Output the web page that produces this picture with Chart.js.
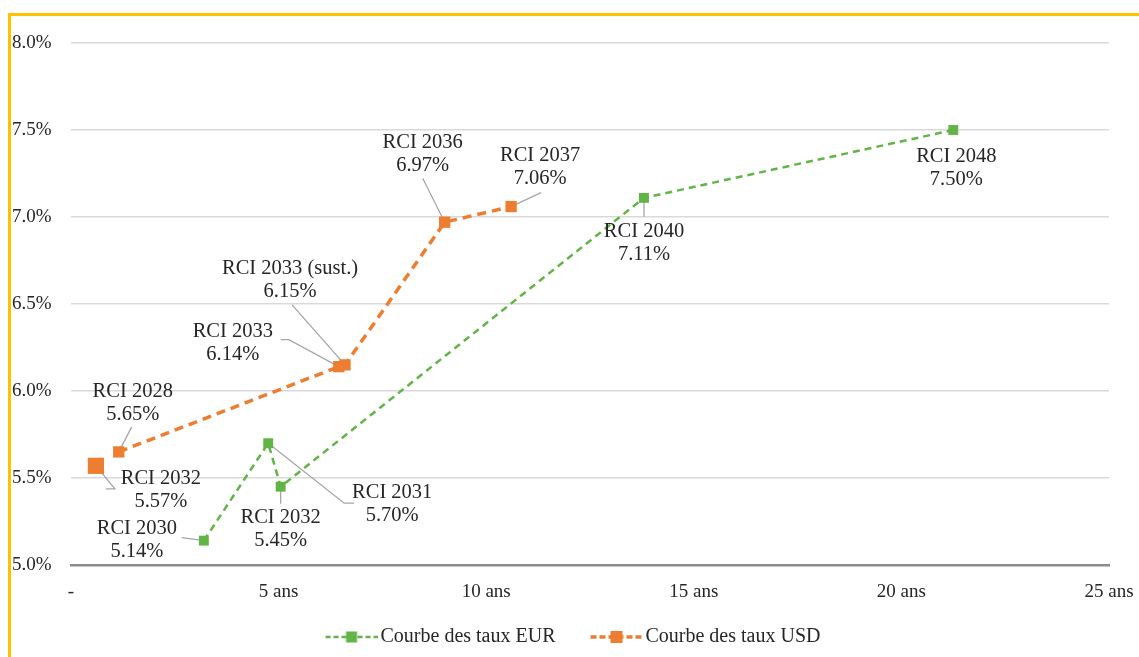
<!DOCTYPE html>
<html>
<head>
<meta charset="utf-8">
<script src="https://cdn.jsdelivr.net/npm/chart.js@4.4.1/dist/chart.umd.min.js"></script>
<style>
    html, body { margin: 0; padding: 0; background: #fff; }
    #wrap { position: absolute; left: 0; top: 0; width: 1139px; height: 657px; overflow: hidden; }
    #frame { position: absolute; left: 8px; top: 13px; width: 1200px; height: 700px;
             border-left: 3px solid #FFC000; border-top: 3px solid #FFC000; }
    #chart { position: absolute; left: 0; top: 0; }
</style>
</head>
<body>
<div id="wrap">
    <div id="frame"></div>
    <canvas id="chart" width="1139" height="657"></canvas>
</div>
<script>
// Maturity (years) and yield (%)
const eurNames = ['RCI 2030', 'RCI 2031', 'RCI 2032', 'RCI 2040', 'RCI 2048'];
const eurYears = [3.2, 4.75, 5.05, 13.8, 21.25];
const eurRates = [5.14, 5.70, 5.45, 7.11, 7.50];

const usdNames = ['RCI 2028', 'RCI 2033', 'RCI 2033 (sust.)', 'RCI 2036', 'RCI 2037'];
const usdYears = [1.15, 6.45, 6.6, 9.0, 10.6];
const usdRates = [5.65, 6.14, 6.15, 6.97, 7.06];

// stand-alone USD bond, drawn bigger and not joined to the curve
const usdSoloNames = ['RCI 2032'];
const usdSoloYears = [0.6];
const usdSoloRates = [5.57];

const xTickLabels = ['-', '5 ans', '10 ans', '15 ans', '20 ans', '25 ans'];

// label placement (pixel offsets from the marker) and leader lines
const eurLabelOffsets = [[-67, -1], [124, 61], [0, 42], [0, 45], [3, 38]];
const eurLeaders = [[[-22, -3]], [[86, 60], [76, 60]], [[0, 17]], [[0, 19]], []];
const usdLabelOffsets = [[14, -49], [-106, -24], [-55, -85], [-22, -68], [29, -39]];
const usdLeaders = [[[13, -25]], [[-58, -27], [-50, -27]], [[-53, -60]], [[-22, -44]], [[30, -14]]];
const usdSoloLabelOffsets = [[65, 24]];
const usdSoloLeaders = [[[10, 23], [19, 23]]];

const GREEN = '#62B446';
const ORANGE = '#ED7D31';
const FONT = '"Liberation Serif", "Times New Roman", serif';

Chart.defaults.font.family = FONT;
Chart.defaults.color = '#262626';

function toPoints(xs, ys) {
    return xs.map((x, i) => ({ x: x, y: ys[i] }));
}

// legend swatch: dashed line with the marker, padded on the left so items sit apart
function legendSymbol(color, lineWidth, dash, side) {
    const c = document.createElement('canvas');
    c.width = 84;
    c.height = 14;
    const ctx = c.getContext('2d');
    ctx.strokeStyle = color;
    ctx.lineWidth = lineWidth;
    ctx.setLineDash(dash);
    ctx.beginPath();
    ctx.moveTo(32, 7);
    ctx.lineTo(84, 7);
    ctx.stroke();
    ctx.fillStyle = color;
    ctx.fillRect(58 - side / 2, 7 - side / 2, side, side);
    return c;
}

const pointLabels = {
    id: 'pointLabels',
    beforeDatasetsDraw(chart) {
        const ctx = chart.ctx;
        ctx.save();
        ctx.strokeStyle = '#a6a6a6';
        ctx.lineWidth = 1.3;
        chart.data.datasets.forEach((ds, i) => {
            const meta = chart.getDatasetMeta(i);
            meta.data.forEach((pt, j) => {
                const leader = ds.leaders[j];
                if (!leader || !leader.length) return;
                ctx.beginPath();
                ctx.moveTo(pt.x + leader[0][0], pt.y + leader[0][1]);
                leader.slice(1).forEach(p => ctx.lineTo(pt.x + p[0], pt.y + p[1]));
                ctx.lineTo(pt.x, pt.y);
                ctx.stroke();
            });
        });
        ctx.restore();
    },
    afterDatasetsDraw(chart) {
        const ctx = chart.ctx;
        ctx.save();
        ctx.font = '20.5px ' + FONT;
        ctx.fillStyle = '#262626';
        ctx.textAlign = 'center';
        ctx.textBaseline = 'middle';
        chart.data.datasets.forEach((ds, i) => {
            const meta = chart.getDatasetMeta(i);
            meta.data.forEach((pt, j) => {
                const off = ds.labelOffsets[j];
                const cx = pt.x + off[0];
                const cy = pt.y + off[1];
                const rate = ds.data[j].y.toFixed(2) + '%';
                ctx.fillText(ds.names[j], cx, cy - 11.5);
                ctx.fillText(rate, cx, cy + 11.5);
            });
        });
        ctx.restore();
    }
};

const eurSymbol = legendSymbol(GREEN, 2.5, [5, 3], 11);
const usdSymbol = legendSymbol(ORANGE, 3.5, [6, 3], 12);

new Chart(document.getElementById('chart').getContext('2d'), {
    type: 'scatter',
    data: {
        datasets: [
            {
                label: 'Courbe des taux EUR',
                data: toPoints(eurYears, eurRates),
                names: eurNames,
                labelOffsets: eurLabelOffsets,
                leaders: eurLeaders,
                showLine: true,
                borderColor: GREEN,
                backgroundColor: GREEN,
                borderWidth: 2.5,
                borderDash: [7, 5],
                pointStyle: 'rect',
                pointRadius: 7,
                pointBorderWidth: 0,
                pointBackgroundColor: GREEN
            },
            {
                label: 'Courbe des taux USD',
                data: toPoints(usdYears, usdRates),
                names: usdNames,
                labelOffsets: usdLabelOffsets,
                leaders: usdLeaders,
                showLine: true,
                borderColor: ORANGE,
                backgroundColor: ORANGE,
                borderWidth: 3.5,
                borderDash: [9, 6],
                pointStyle: 'rect',
                pointRadius: 8,
                pointBorderWidth: 0,
                pointBackgroundColor: ORANGE
            },
            {
                label: 'solo',
                data: toPoints(usdSoloYears, usdSoloRates),
                names: usdSoloNames,
                labelOffsets: usdSoloLabelOffsets,
                leaders: usdSoloLeaders,
                showLine: false,
                borderColor: ORANGE,
                backgroundColor: ORANGE,
                pointStyle: 'rect',
                pointRadius: 11.5,
                pointBorderWidth: 0,
                pointBackgroundColor: ORANGE
            }
        ]
    },
    options: {
        responsive: false,
        animation: false,
        layout: {
            padding: { left: 12, right: 30, top: 43, bottom: 0 }
        },
        scales: {
            x: {
                type: 'linear',
                min: 0,
                max: 25,
                grid: { display: false, drawTicks: false },
                border: { display: true, color: '#8c8c8c', width: 2.5 },
                ticks: {
                    stepSize: 5,
                    padding: 16,
                    font: { size: 19 },
                    color: '#262626',
                    maxRotation: 0,
                    callback: v => xTickLabels[v / 5]
                },
                afterFit: scale => {
                    scale.height = 52;
                    scale.paddingLeft = 0;
                    scale.paddingRight = 0;
                }
            },
            y: {
                min: 5,
                max: 8,
                grid: { color: '#d9d9d9', lineWidth: 1.5, drawTicks: false },
                border: { display: false },
                ticks: {
                    stepSize: 0.5,
                    crossAlign: 'far',
                    padding: 0,
                    font: { size: 19 },
                    color: '#262626',
                    callback: v => v.toFixed(1) + '%'
                },
                afterFit: scale => { scale.width = 59; }
            }
        },
        plugins: {
            tooltip: { enabled: false },
            legend: {
                position: 'bottom',
                labels: {
                    usePointStyle: true,
                    pointStyleWidth: 70,
                    padding: 10,
                    font: { size: 20 },
                    color: '#262626',
                    filter: item => item.datasetIndex < 2,
                    generateLabels: chart => {
                        const items = Chart.defaults.plugins.legend.labels.generateLabels(chart);
                        items.forEach(item => {
                            item.pointStyle = item.datasetIndex === 0 ? eurSymbol : usdSymbol;
                        });
                        return items;
                    }
                }
            }
        }
    },
    plugins: [pointLabels]
});
</script>
</body>
</html>
